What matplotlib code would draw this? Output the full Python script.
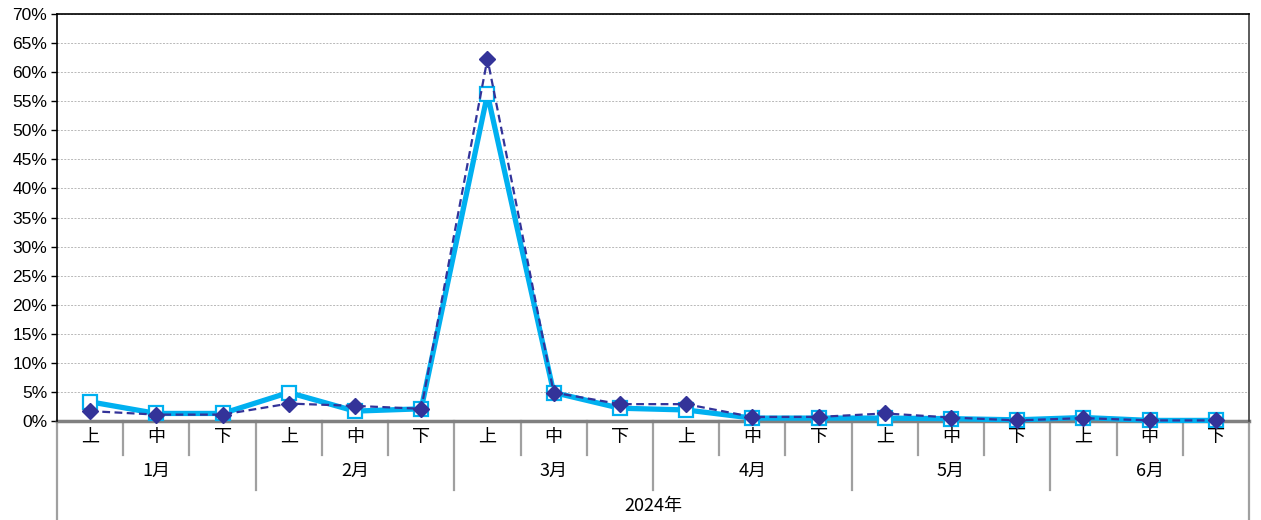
import matplotlib
matplotlib.use("Agg")
import matplotlib.pyplot as plt
from matplotlib.ticker import MultipleLocator, FuncFormatter

plt.rcParams['font.family'] = ['Noto Sans CJK JP', 'DejaVu Sans']

months = ['1月', '2月', '3月', '4月', '5月', '6月']
periods = ['上', '中', '下']
year_label = '2024年'

series_a = [3.3, 1.3, 1.3, 4.9, 1.7, 2.1, 56.2, 4.9, 2.2, 1.9, 0.5, 0.5,
            0.5, 0.4, 0.2, 0.6, 0.1, 0.1]
series_b = [1.7, 1.1, 1.1, 3.0, 2.6, 2.1, 62.3, 4.9, 2.9, 2.9, 0.7, 0.7,
            1.3, 0.6, 0.1, 0.5, 0.1, 0.1]

W, H = 1261, 520
fig = plt.figure(figsize=(W / 100, H / 100), dpi=100)
ax_l, ax_r, ax_t, ax_b = 57, 1249, 14, 421
ax = fig.add_axes([ax_l / W, (H - ax_b) / H, (ax_r - ax_l) / W, (ax_b - ax_t) / H])

n = len(series_a)
x = list(range(n))

ax.plot(x, series_a, color='#00B0F0', lw=3.8, marker='s', ms=10,
        mfc='white', mec='#00B0F0', mew=1.6, zorder=3, clip_on=False)
ax.plot(x, series_b, color='#333399', lw=1.6, ls=(0, (3.5, 2)), marker='D',
        ms=8, mfc='#333399', mec='#333399', zorder=4, clip_on=False)

ax.set_xlim(-0.5, n - 0.5)
ax.set_ylim(0, 70)
ax.yaxis.set_major_locator(MultipleLocator(5))
ax.yaxis.set_major_formatter(FuncFormatter(lambda v, p: f'{int(round(v))}%'))
ax.tick_params(axis='y', length=4, width=1, labelsize=12.5, pad=3)
for lab in ax.get_yticklabels():
    lab.set_family(['Liberation Sans', 'DejaVu Sans'])
ax.set_xticks([])
ax.grid(axis='y', color='#b8b8b8', ls=(0, (2, 1.5)), lw=0.7)
ax.set_axisbelow(True)

for s in ['left', 'top', 'right']:
    ax.spines[s].set_color('black')
    ax.spines[s].set_linewidth(1.2)
ax.spines['right'].set_color('#404040')
ax.spines['bottom'].set_color('#808080')
ax.spines['bottom'].set_linewidth(2.5)
ax.spines['bottom'].set_zorder(2)

tr = ax.get_xaxis_transform()
ph = ax_b - ax_t

def fy(py):
    return -(py - ax_b) / ph

gcol = '#a0a0a0'
for i in range(n + 1):
    xb = i - 0.5
    if i == 0 or i == n:
        y2 = fy(520)
    elif i % 3 == 0:
        y2 = fy(490)
    else:
        y2 = fy(455)
    ax.plot([xb, xb], [0, y2], transform=tr, color=gcol, lw=1.6,
            clip_on=False, zorder=1)

for i in range(n):
    ax.text(i, fy(437), periods[i % 3], transform=tr, ha='center',
            va='center', fontsize=13)
for m, name in enumerate(months):
    ax.text(3 * m + 1, fy(471), name, transform=tr, ha='center',
            va='center', fontsize=13)
ax.text((n - 1) / 2, fy(506), year_label, transform=tr, ha='center',
        va='center', fontsize=13)

fig.savefig('out.png', dpi=100)
